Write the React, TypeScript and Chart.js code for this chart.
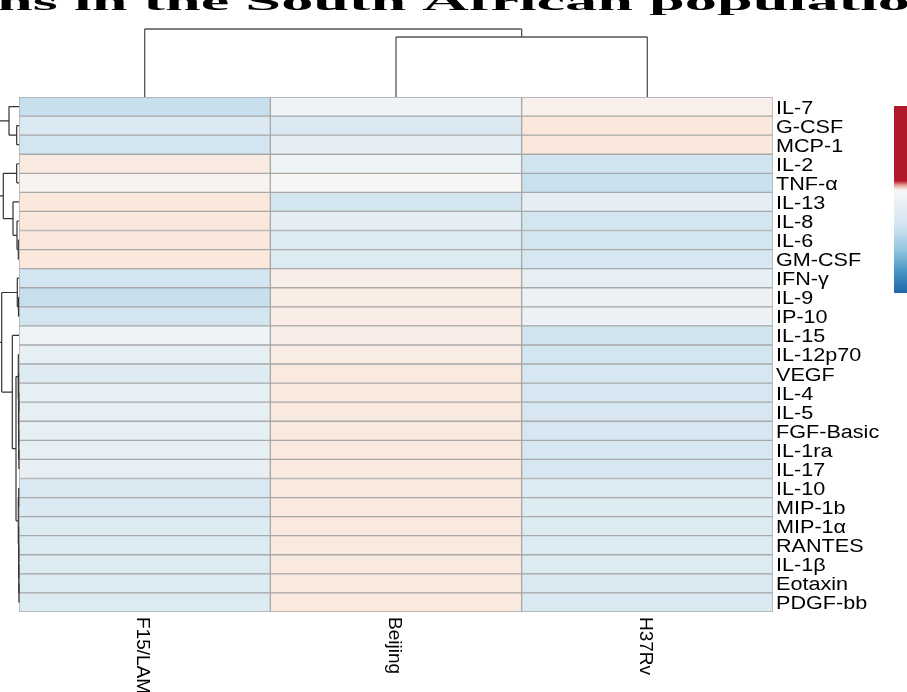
import React, { useEffect, useRef } from "react";
import { Chart, registerables } from "chart.js";

Chart.register(...registerables);

// ---------- data ----------
const titleText = "ns in the South African population";
const titleVisible = "ns in the South African populatio";

const rowLabels = [
  "IL-7", "G-CSF", "MCP-1", "IL-2", "TNF-α", "IL-13", "IL-8", "IL-6", "GM-CSF",
  "IFN-γ", "IL-9", "IP-10", "IL-15", "IL-12p70", "VEGF", "IL-4", "IL-5",
  "FGF-Basic", "IL-1ra", "IL-17", "IL-10", "MIP-1b", "MIP-1α", "RANTES",
  "IL-1β", "Eotaxin", "PDGF-bb",
];

const columnLabels = ["F15/LAM", "Beijing", "H37Rv"];

const f15Values = [
  -0.23, -0.15, -0.195, 0.086, 0.03, 0.107, 0.107, 0.107, 0.107,
  -0.195, -0.23, -0.195, -0.047, -0.089, -0.13, -0.089, -0.089,
  -0.089, -0.089, -0.085, -0.15, -0.15, -0.135, -0.14,
  -0.14, -0.14, -0.14,
];
const beijingValues = [
  -0.042, -0.15, -0.1, -0.047, 0.01, -0.19, -0.1, -0.14, -0.14,
  0.065, 0.07, 0.07, 0.065, 0.08, 0.1, 0.1, 0.1,
  0.1, 0.1, 0.1, 0.1, 0.1, 0.1, 0.1,
  0.1, 0.1, 0.1,
];
const h37rvValues = [
  0.05, 0.107, 0.107, -0.2, -0.225, -0.1, -0.19, -0.19, -0.175,
  -0.09, -0.063, -0.063, -0.2, -0.19, -0.175, -0.175, -0.175,
  -0.175, -0.175, -0.175, -0.14, -0.135, -0.14, -0.14,
  -0.14, -0.15, -0.15,
];

// dendrograms: leaf = row/column index, node = [left, right, mergeHeight]
type Tree = number | [Tree, Tree, number];
const rowTree: Tree = [
  [
    [0, [1, 2, 2.3], 10],
    [[3, 4, 2.3], [5, [6, [7, 8, 0.7], 2], 6], 15.7],
    22,
  ],
  [
    [9, [10, 11, 0.5], 1.7],
    [
      12,
      [
        [13, [14, [[15, 16, 0.2], [17, [18, 19, 0.1], 0.3], 0.4], 0.5], 0.7],
        [[20, 21, 0.3], [22, [23, [24, [25, 26, 0.1], 0.2], 0.3], 0.4], 0.7],
        3,
      ],
      6.7,
    ],
    17.3,
  ],
  25,
];
const columnTree: Tree = [0, [1, 2, 60], 68];

// ---------- colour map ----------
const rdbuStops: [number, number[]][] = [
  [-1, [5, 48, 97]],
  [-0.8, [33, 102, 172]],
  [-0.6, [67, 147, 195]],
  [-0.4, [146, 197, 222]],
  [-0.2, [209, 229, 240]],
  [0, [247, 247, 247]],
  [0.2, [253, 219, 199]],
  [0.4, [244, 165, 130]],
  [0.6, [214, 96, 77]],
  [0.8, [178, 24, 43]],
  [1, [103, 0, 31]],
];

function valueToColor(v: number): string {
  const x = Math.max(-1, Math.min(1, v));
  for (let i = 0; i < rdbuStops.length - 1; i++) {
    const [a, ca] = rdbuStops[i];
    const [b, cb] = rdbuStops[i + 1];
    if (x >= a && x <= b) {
      const t = (x - a) / (b - a);
      const c = ca.map((q, k) => Math.round(q + (cb[k] - q) * t));
      return `rgb(${c[0]},${c[1]},${c[2]})`;
    }
  }
  return "rgb(247,247,247)";
}

// ---------- drawing helpers ----------
function drawTree(
  ctx: CanvasRenderingContext2D,
  node: Tree,
  leafPos: (i: number) => number,
  toOut: (h: number) => number,
  vertical: boolean
): { p: number; h: number } {
  if (typeof node === "number") return { p: leafPos(node), h: 0 };
  const a = drawTree(ctx, node[0], leafPos, toOut, vertical);
  const b = drawTree(ctx, node[1], leafPos, toOut, vertical);
  const o = toOut(node[2]);
  ctx.beginPath();
  if (!vertical) {
    // row dendrogram: o is x
    ctx.moveTo(o, a.p);
    ctx.lineTo(o, b.p);
    ctx.moveTo(o, a.p);
    ctx.lineTo(toOut(a.h), a.p);
    ctx.moveTo(o, b.p);
    ctx.lineTo(toOut(b.h), b.p);
  } else {
    ctx.moveTo(a.p, o);
    ctx.lineTo(b.p, o);
    ctx.moveTo(a.p, o);
    ctx.lineTo(a.p, toOut(a.h));
    ctx.moveTo(b.p, o);
    ctx.lineTo(b.p, toOut(b.h));
  }
  ctx.stroke();
  return { p: (a.p + b.p) / 2, h: node[2] };
}

const decorPlugin = {
  id: "heatmapDecor",
  afterDraw(chart: any) {
    const ctx: CanvasRenderingContext2D = chart.ctx;
    const xs = chart.scales.x;
    const ys = chart.scales.y;
    const area = chart.chartArea;

    // title fragment (cropped at top)
    ctx.save();
    ctx.fillStyle = "#000";
    ctx.font = "bold 26px 'Liberation Serif'";
    const w = ctx.measureText(titleVisible).width;
    ctx.translate(-3, 10);
    ctx.scale(913 / w, 1);
    ctx.textBaseline = "alphabetic";
    ctx.textAlign = "left";
    ctx.fillText(titleText, 0, 0);
    ctx.restore();

    // column dendrogram
    ctx.save();
    ctx.strokeStyle = "#555";
    ctx.lineWidth = 1.3;
    drawTree(
      ctx,
      columnTree,
      (i) => xs.getPixelForValue(i + 0.5),
      (h) => area.top - h,
      true
    );
    ctx.restore();

    // row dendrogram
    ctx.save();
    ctx.strokeStyle = "#333";
    ctx.lineWidth = 1.2;
    drawTree(
      ctx,
      rowTree,
      (i) => ys.getPixelForValue(i),
      (h) => area.left - h,
      false
    );
    ctx.restore();

    // row labels
    ctx.save();
    ctx.fillStyle = "#000";
    ctx.font = "18px 'Liberation Sans'";
    ctx.textBaseline = "middle";
    ctx.textAlign = "left";
    rowLabels.forEach((lab, i) => {
      const y = ys.getPixelForValue(i) + 2;
      ctx.save();
      ctx.translate(area.right + 3, y);
      ctx.scale(1.2, 1);
      ctx.fillText(lab, 0, 0);
      ctx.restore();
    });
    ctx.restore();

    // column labels (rotated)
    ctx.save();
    ctx.fillStyle = "#000";
    ctx.font = "19px 'Liberation Sans'";
    ctx.textBaseline = "middle";
    ctx.textAlign = "left";
    columnLabels.forEach((lab, c) => {
      const x = xs.getPixelForValue(c + 0.5) - 2;
      ctx.save();
      ctx.translate(x, area.bottom + 5);
      ctx.rotate(Math.PI / 2);
      ctx.fillText(lab, 0, 0);
      ctx.restore();
    });
    ctx.restore();

    // colour key bar (cropped at right edge)
    ctx.save();
    const top = 106;
    const bot = 293;
    const g = ctx.createLinearGradient(0, top, 0, bot);
    g.addColorStop(0, "#B2182B");
    g.addColorStop(0.4, "#B2182B");
    g.addColorStop(0.425, "#E9A99B");
    g.addColorStop(0.45, "#F7F7F7");
    g.addColorStop(0.64, "#D1E5F0");
    g.addColorStop(0.77, "#92C5DE");
    g.addColorStop(0.89, "#4393C3");
    g.addColorStop(1, "#2166AC");
    ctx.fillStyle = g;
    ctx.fillRect(894, top, 20, bot - top);
    ctx.restore();
  },
};

export default function App() {
  const ref = useRef<HTMLCanvasElement | null>(null);

  useEffect(() => {
    document.body.style.margin = "0";
    const canvas = ref.current;
    if (!canvas) return;
    const columns = [f15Values, beijingValues, h37rvValues];
    const chart = new Chart(canvas, {
      type: "bar",
      data: {
        labels: rowLabels,
        datasets: columns.map((vals, c) => ({
          label: columnLabels[c],
          data: vals.map(() => [c, c + 1]),
          backgroundColor: vals.map((v) => valueToColor(v)),
          borderColor: "#A8A8A8",
          borderWidth: 1,
          borderSkipped: false,
          barPercentage: 1,
          categoryPercentage: 1,
          grouped: false,
        })) as any,
      },
      options: {
        indexAxis: "y",
        responsive: false,
        animation: false,
        devicePixelRatio: 1,
        layout: { padding: { left: 19, right: 134, top: 97, bottom: 80 } },
        scales: {
          x: { type: "linear", min: 0, max: 3, display: false },
          y: { type: "category", display: false, offset: true },
        },
        plugins: {
          legend: { display: false },
          tooltip: { enabled: false },
          title: { display: false },
        },
      } as any,
      plugins: [decorPlugin],
    });
    return () => chart.destroy();
  }, []);

  return (
    <div style={{ position: "fixed", left: 0, top: 0, width: 907, height: 692, background: "#fff" }}>
      <canvas ref={ref} width={907} height={692} style={{ display: "block" }} />
    </div>
  );
}
